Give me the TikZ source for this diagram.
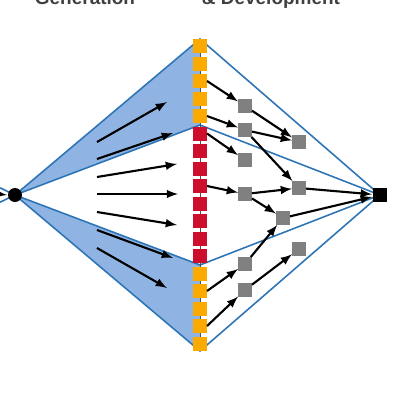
\documentclass[tikz,border=0pt]{standalone}
\usepackage{fontspec}
\setmainfont{Liberation Sans}
\usetikzlibrary{arrows}

\definecolor{fanblue}{RGB}{46,117,182}
\definecolor{fanfill}{RGB}{143,180,227}
\definecolor{hitorange}{RGB}{250,170,0}
\definecolor{leadred}{RGB}{205,15,45}
\definecolor{candgray}{RGB}{128,128,128}
\definecolor{titlegray}{RGB}{64,64,64}

\tikzset{
  colbox/.style={minimum size=0.28cm, inner sep=0pt, outer sep=0pt},
  hitbox/.style={colbox, fill=hitorange},
  leadbox/.style={colbox, fill=leadred},
  candbox/.style={colbox, fill=candgray},
  fanline/.style={color=fanblue, line width=0.9pt},
  toptext/.style={font=\fontsize{10.8}{13}\selectfont\bfseries, color=titlegray, anchor=base}
}

\begin{document}
\begin{tikzpicture}[x=0.02cm, y=-0.02cm, >=latex, line width=1.2pt]
\clip (0,0) rectangle (400,400);

% titles, cut off at the top edge
\node[toptext] (gen) at (85,4.5) {Generation};
\node[toptext] (dev) at (271,4.5) {\& Development};

\coordinate (apex) at (15,195);
\coordinate (tip)  at (380,195);
\coordinate (c1) at (200,39);
\coordinate (c2) at (200,125);
\coordinate (c3) at (200,265);
\coordinate (c4) at (200,351);

% fans
\fill[fanfill] (apex) -- (c1) -- (c2) -- cycle;
\fill[fanfill] (apex) -- (c3) -- (c4) -- cycle;
\draw[fanline] (apex) -- (c1) -- (tip);
\draw[fanline] (apex) -- (c2) -- (tip);
\draw[fanline] (apex) -- (c3) -- (tip);
\draw[fanline] (apex) -- (c4) -- (tip);
\draw[fanline] (apex) -- (-10,183);
\draw[fanline] (apex) -- (-10,207);

% column
\draw[candgray!60!black, line width=0.5pt] (c1) -- (c4);
\node[hitbox]  (s1)  at (200,46)    {};
\node[hitbox]  (s2)  at (200,63.5)  {};
\node[hitbox]  (s3)  at (200,81)    {};
\node[hitbox]  (s4)  at (200,98.5)  {};
\node[hitbox]  (s5)  at (200,116)   {};
\node[leadbox] (s6)  at (200,133.5) {};
\node[leadbox] (s7)  at (200,151)   {};
\node[leadbox] (s8)  at (200,168.5) {};
\node[leadbox] (s9)  at (200,186)   {};
\node[leadbox] (s10) at (200,203.5) {};
\node[leadbox] (s11) at (200,221)   {};
\node[leadbox] (s12) at (200,238.5) {};
\node[leadbox] (s13) at (200,256)   {};
\node[hitbox]  (s14) at (200,273.5) {};
\node[hitbox]  (s15) at (200,291)   {};
\node[hitbox]  (s16) at (200,308.5) {};
\node[hitbox]  (s17) at (200,326)   {};
\node[hitbox]  (s18) at (200,343.5) {};

% candidates
\node[candbox] (g1)  at (245,106) {};
\node[candbox] (g2)  at (245,130) {};
\node[candbox] (g3)  at (299,142) {};
\node[candbox] (g4)  at (245,160) {};
\node[candbox] (g5)  at (299,188) {};
\node[candbox] (g6)  at (245,194) {};
\node[candbox] (g7)  at (283,218) {};
\node[candbox] (g8)  at (299,249) {};
\node[candbox] (g9)  at (245,264) {};
\node[candbox] (g10) at (245,290) {};

\node[circle, fill=black, minimum size=0.28cm, inner sep=0pt] (hub) at (apex) {};
\node[fill=black, minimum size=0.28cm, inner sep=0pt] (sink) at (tip) {};
\draw[->] (-10,193) -- (hub.west);

% arrows inside the fan
\draw[->] (97,142) -- (167,102);
\draw[->] (97,159) -- (173,133);
\draw[->] (97,177) -- (177,164);
\draw[->] (97,194) -- (178,194);
\draw[->] (97,212) -- (177,225);
\draw[->] (97,230) -- (173,258);
\draw[->] (97,248) -- (167,288);

% development arrows
\draw[->] (s3.east)  -- (g1);
\draw[->] (s5.east)  -- (g2);
\draw[->] (s6.east)  -- (g4);
\draw[->] (s9.east)  -- (g6);
\draw[->] (s15.east) -- (g9);
\draw[->] (s17.east) -- (g10);
\draw[->] (g1)  -- (g3);
\draw[->] (g2)  -- (g3);
\draw[->] (g2)  -- (g5);
\draw[->] (g6)  -- (g5);
\draw[->] (g6)  -- (g7);
\draw[->] (g9)  -- (g7);
\draw[->] (g10) -- (g8);
\draw[->] (g5)  -- (sink);
\draw[->] (g7)  -- (sink);

\end{tikzpicture}
\end{document}
